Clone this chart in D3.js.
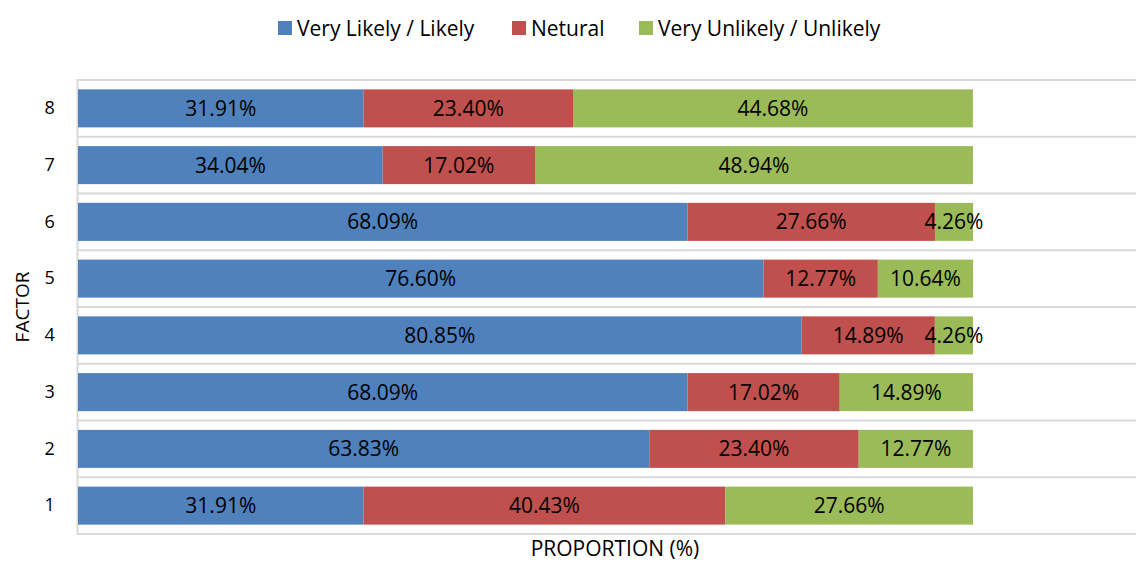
<!DOCTYPE html>
<html>
<head>
<meta charset="utf-8">
<script src="https://cdn.jsdelivr.net/npm/d3@7"></script>
<style>
  html, body { margin: 0; padding: 0; background: #fff; }
  svg { display: block; font-family: "Open Sans", sans-serif; }
</style>
</head>
<body>
<svg id="chart" width="1136" height="562"></svg>
<script>
// Survey responses per factor, in percent
const factors = ["1", "2", "3", "4", "5", "6", "7", "8"];
const seriesNames = ["Very Likely / Likely", "Netural", "Very Unlikely / Unlikely"];
const likely   = [31.91, 63.83, 68.09, 80.85, 76.60, 68.09, 34.04, 31.91];
const neutral  = [40.43, 23.40, 17.02, 14.89, 12.77, 27.66, 17.02, 23.40];
const unlikely = [27.66, 12.77, 14.89, 4.26, 10.64, 4.26, 48.94, 44.68];
const colors = ["#4F81BD", "#C0504D", "#9BBB59"];

const rows = factors.map((f, i) => ({
  factor: f,
  [seriesNames[0]]: likely[i],
  [seriesNames[1]]: neutral[i],
  [seriesNames[2]]: unlikely[i]
}));

const svg = d3.select("#chart");
const plot = { left: 78, top: 80, right: 1136, bottom: 534 };

const x = d3.scaleLinear().domain([0, 100]).range([plot.left, 973]);
const y = d3.scaleBand()
  .domain(factors.slice().reverse())
  .range([plot.top, plot.bottom])
  .paddingInner(0.33)
  .paddingOuter(0.165);
const color = d3.scaleOrdinal().domain(seriesNames).range(colors);

// horizontal gridlines at category boundaries
const step = y.step();
const gap = (step - y.bandwidth()) / 2;
const bounds = factors.slice().reverse().map(f => y(f) - gap);
bounds.push(plot.bottom);
svg.append("g")
  .selectAll("line")
  .data(bounds)
  .join("line")
  .attr("x1", plot.left).attr("x2", plot.right)
  .attr("y1", d => d).attr("y2", d => d)
  .attr("stroke", "#d9d9d9").attr("stroke-width", 2);

// vertical axis line
svg.append("line")
  .attr("x1", plot.left - 0.5).attr("x2", plot.left - 0.5)
  .attr("y1", plot.top - 1).attr("y2", plot.bottom + 1)
  .attr("stroke", "#d9d9d9").attr("stroke-width", 2);

// stacked bars
const stacked = d3.stack().keys(seriesNames)(rows);
const layer = svg.append("g")
  .selectAll("g")
  .data(stacked)
  .join("g")
  .attr("fill", d => color(d.key));

layer.selectAll("rect")
  .data(d => d)
  .join("rect")
  .attr("x", d => x(d[0]))
  .attr("y", d => y(d.data.factor))
  .attr("width", d => x(d[1]) - x(d[0]))
  .attr("height", y.bandwidth());

// value labels centred in each segment
layer.selectAll("text")
  .data(d => d.map(v => ({ v, key: d.key })))
  .join("text")
  .attr("x", d => (x(d.v[0]) + x(d.v[1])) / 2)
  .attr("y", d => y(d.v.data.factor) + y.bandwidth() / 2)
  .attr("dy", "0.36em")
  .attr("text-anchor", "middle")
  .attr("fill", "#000")
  .attr("font-size", 21)
  .text(d => d.v.data[d.key].toFixed(2) + "%");

// category axis
const yAxis = d3.axisLeft(y).tickSize(0).tickPadding(0);
const yg = svg.append("g")
  .attr("transform", "translate(55,0)")
  .call(yAxis);
yg.select(".domain").remove();
yg.selectAll("text")
  .attr("font-size", 18)
  .attr("font-family", "Open Sans, sans-serif")
  .attr("fill", "#000")
  .attr("text-anchor", "middle")
  .attr("dx", "-0.3em");

// axis titles
svg.append("text")
  .attr("transform", "translate(29,307) rotate(-90)")
  .attr("text-anchor", "middle")
  .attr("font-size", 19)
  .text("FACTOR");

svg.append("text")
  .attr("x", 615).attr("y", 556)
  .attr("text-anchor", "middle")
  .attr("font-size", 21)
  .text("PROPORTION (%)");

// legend
const legendX = [278, 512, 639];
const legend = svg.append("g")
  .selectAll("g")
  .data(seriesNames)
  .join("g")
  .attr("transform", (d, i) => `translate(${legendX[i]},21)`);
legend.append("rect")
  .attr("width", 14).attr("height", 14)
  .attr("fill", d => color(d));
legend.append("text")
  .attr("x", 19).attr("y", 14.5)
  .attr("font-size", 21)
  .text(d => d);
</script>
</body>
</html>
